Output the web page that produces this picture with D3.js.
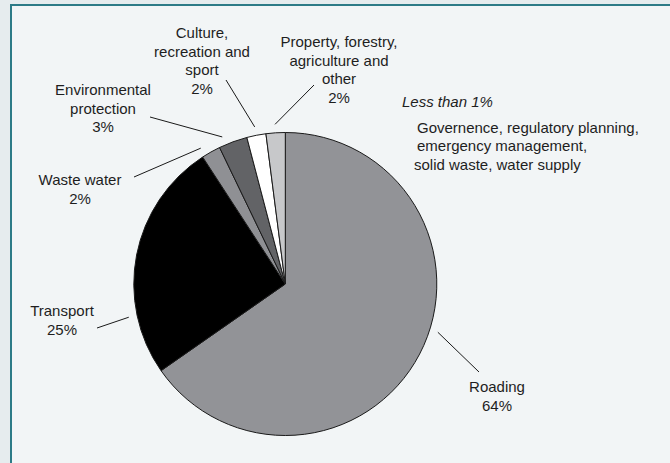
<!DOCTYPE html>
<html>
<head>
<meta charset="utf-8">
<script src="https://cdn.jsdelivr.net/npm/d3@7"></script>
<style>
  html, body { margin: 0; padding: 0; background: #e6ecee; }
  svg { display: block; }
  text { font-family: "Liberation Sans", Arial, Helvetica, sans-serif; fill: #1e1e1e; }
</style>
</head>
<body>
<svg id="chart" width="670" height="463"></svg>
<script>
// Spending share by activity, clockwise from 12 o'clock
const categories = ["Roading", "Transport", "Waste water", "Environmental protection",
                    "Culture, recreation and sport", "Property, forestry, agriculture and other"];
const shares = [64, 25, 2, 3, 2, 2];
const labelLines = [
  ["Roading"],
  ["Transport"],
  ["Waste water"],
  ["Environmental", "protection"],
  ["Culture,", "recreation and", "sport"],
  ["Property, forestry,", "agriculture and", "other"]
];
const minorHeading = "Less than 1%";
const minorItems = ["Governence, regulatory planning,", "emergency management,", "solid waste, water supply"];

// Presentation
const sliceFill = ["#929397", "#000000", "#8f9094", "#626366", "#ffffff", "#c7c8ca"];
const labelLayout = [
  { x: 497, y: 392, angleShift: -10, end: [479, 372] },
  { x: 62,  y: 316, angleShift: -23, end: [97, 328] },
  { x: 80,  y: 185, angleShift: -2.5, end: [134, 177] },
  { x: 103, y: 95,  angleShift: -3, end: [150, 117] },
  { x: 202, y: 38,  angleShift: 0, end: [226, 80] },
  { x: 339, y: 47,  angleShift: 0, end: [314, 85] }
];
const lineGap = 18.5;

const svg = d3.select("#chart");
const W = 670, H = 463;

// panel with a teal frame on the top and left edges
svg.append("rect").attr("x", 0).attr("y", 0).attr("width", W).attr("height", H).attr("fill", "#e6ecee");
svg.append("rect").attr("x", 11).attr("y", 5).attr("width", W).attr("height", H)
  .attr("fill", "#f2f5f6");
svg.append("path")
  .attr("d", `M11,${H + 5} L11,5 L${W + 5},5`)
  .attr("fill", "none").attr("stroke", "#2d7b87").attr("stroke-width", 2);

const cx = 285.3, cy = 284, radius = 151.5;
const g = svg.append("g").attr("transform", `translate(${cx},${cy})`);

const pie = d3.pie().sort(null).value(d => d);
const arcs = pie(shares);
const arc = d3.arc().innerRadius(0).outerRadius(radius);

g.selectAll("path.slice")
  .data(arcs)
  .join("path")
  .attr("class", "slice")
  .attr("d", arc)
  .attr("fill", (d, i) => sliceFill[i])
  .attr("stroke", "#1a1a1a")
  .attr("stroke-width", 1)
  .attr("stroke-linejoin", "round");

// leader lines from just outside each slice toward its label
arcs.forEach((a, i) => {
  const lay = labelLayout[i];
  const ang = (a.startAngle + a.endAngle) / 2 + lay.angleShift * Math.PI / 180;
  const r0 = radius + 8.5;
  const x0 = cx + Math.sin(ang) * r0;
  const y0 = cy - Math.cos(ang) * r0;
  svg.append("line")
    .attr("x1", x0).attr("y1", y0)
    .attr("x2", lay.end[0]).attr("y2", lay.end[1])
    .attr("stroke", "#1a1a1a").attr("stroke-width", 1);
});

// category labels with percentage on the last line
arcs.forEach((a, i) => {
  const lay = labelLayout[i];
  const lines = labelLines[i].concat([shares[i] + "%"]);
  const t = svg.append("text")
    .attr("text-anchor", "middle")
    .attr("font-size", 15);
  lines.forEach((ln, k) => {
    t.append("tspan").attr("x", lay.x).attr("y", lay.y + k * lineGap).text(ln);
  });
});

// note for the small categories
svg.append("text")
  .attr("x", 402).attr("y", 107)
  .attr("font-size", 15).attr("font-style", "italic")
  .text(minorHeading);
const minorX = [417, 417, 414];
const mt = svg.append("text").attr("font-size", 15);
minorItems.forEach((ln, k) => {
  mt.append("tspan").attr("x", minorX[k]).attr("y", 132.5 + k * lineGap).text(ln);
});
</script>
</body>
</html>
